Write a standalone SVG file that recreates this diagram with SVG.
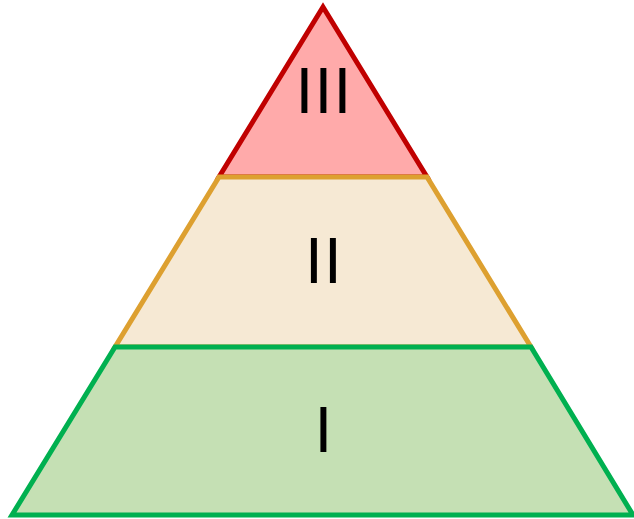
<svg xmlns="http://www.w3.org/2000/svg" width="634" height="519" viewBox="0 0 634 519">
<style>
.layer{stroke-width:5;stroke-linejoin:miter;stroke-miterlimit:10}
.lbl{font-family:"Liberation Sans",Arial,sans-serif;font-size:64px;fill:#000;text-anchor:middle;letter-spacing:1.2px}
</style>
<rect width="634" height="519" fill="#fff"/>
<g id="layer3">
<polygon class="layer" points="323,7 427,177 219,177" fill="#FFAAAA" stroke="#C00000"/>
<text class="lbl" x="324" y="113">III</text>
</g>
<g id="layer2">
<polygon class="layer" points="219,177 427,177 531,347 115,347" fill="#F6E9D4" stroke="#DDA030"/>
<text class="lbl" x="324" y="283">II</text>
</g>
<g id="layer1">
<polygon class="layer" points="115,347 531,347 633,515 12,515" fill="#C5E0B4" stroke="#00B050"/>
<text class="lbl" x="324" y="452">I</text>
</g>
<g id="connectors"></g>
</svg>
